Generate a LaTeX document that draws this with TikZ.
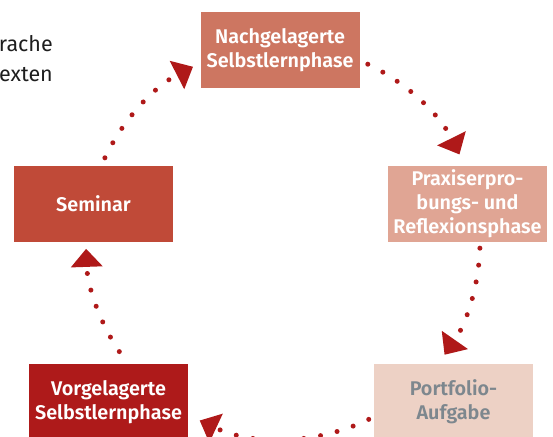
\documentclass[tikz,border=0pt]{standalone}
\usepackage{fontspec}
\setmainfont{Fira Sans}
\newfontfamily\boxfont{Fira Sans SemiBold}
\usetikzlibrary{arrows.meta,calc}
\definecolor{cNach}{HTML}{CD7661}
\definecolor{cPrax}{HTML}{E0A594}
\definecolor{cSem}{HTML}{C04A38}
\definecolor{cVor}{HTML}{AE1A1A}
\definecolor{cPort}{HTML}{EDD1C5}
\definecolor{cArr}{HTML}{AF1919}
\definecolor{cPortTxt}{HTML}{7D878E}
\definecolor{cTxt}{HTML}{1E1E1E}
\begin{document}
\begin{tikzpicture}[x=1pt,y=1pt,
  phase/.style={rectangle, inner sep=0pt, minimum width=159pt, minimum height=76pt,
    align=center, text=white, font=\boxfont\fontsize{19.8}{24}\selectfont},
  cyc/.style={draw=cArr, line width=5pt, line cap=round, dash pattern=on 0pt off 17pt,
    -{Triangle[length=18pt,width=32pt,line width=0pt]}, fill=none},
  cuttext/.style={anchor=base east, inner sep=0pt, text=cTxt, font=\fontsize{21.5}{30}\selectfont}
]
\useasboundingbox (0,0) rectangle (553,436);
\node[cuttext] (t1) at (53,384) {rache};
\node[cuttext] (t2) at (53,354) {exten};

\node[phase, fill=cNach] (nach) at (280,386) {Nachgelagerte\\Selbstlernphase};
\node[phase, fill=cPrax] (prax) at (467.5,232) {Praxiserpro-\\bungs- und\\Reflexionsphase};
\node[phase, fill=cSem] (sem) at (93.5,232) {Seminar};
\node[phase, fill=cVor] (vor) at (108.5,34) {Vorgelagerte\\Selbstlernphase};
\node[phase, fill=cPort, text=cPortTxt] (port) at (453.5,34) {Portfolio-\\Aufgabe};

\coordinate (ctr) at (283,194);
\coordinate (s1) at ($(ctr)+(154.7:197)$);
\coordinate (s2) at ($(ctr)+(64.5:197)$);
\coordinate (s3) at ($(ctr)+(-1.8:197)$);
\coordinate (s4) at ($(ctr)+(-64.2:197)$);
\coordinate (s5) at ($(ctr)+(213.8:197)$);

\draw[cyc] (s1) arc[start angle=154.7, end angle=117.2, radius=197];
\draw[cyc] (s2) arc[start angle=64.5, end angle=26.4, radius=197];
\draw[cyc] (s3) arc[start angle=-1.8, end angle=-34.9, radius=197];
\draw[cyc] (s4) arc[start angle=-64.2, end angle=-115, radius=197];
\draw[cyc] (s5) arc[start angle=213.8, end angle=182, radius=197];
\end{tikzpicture}
\end{document}
